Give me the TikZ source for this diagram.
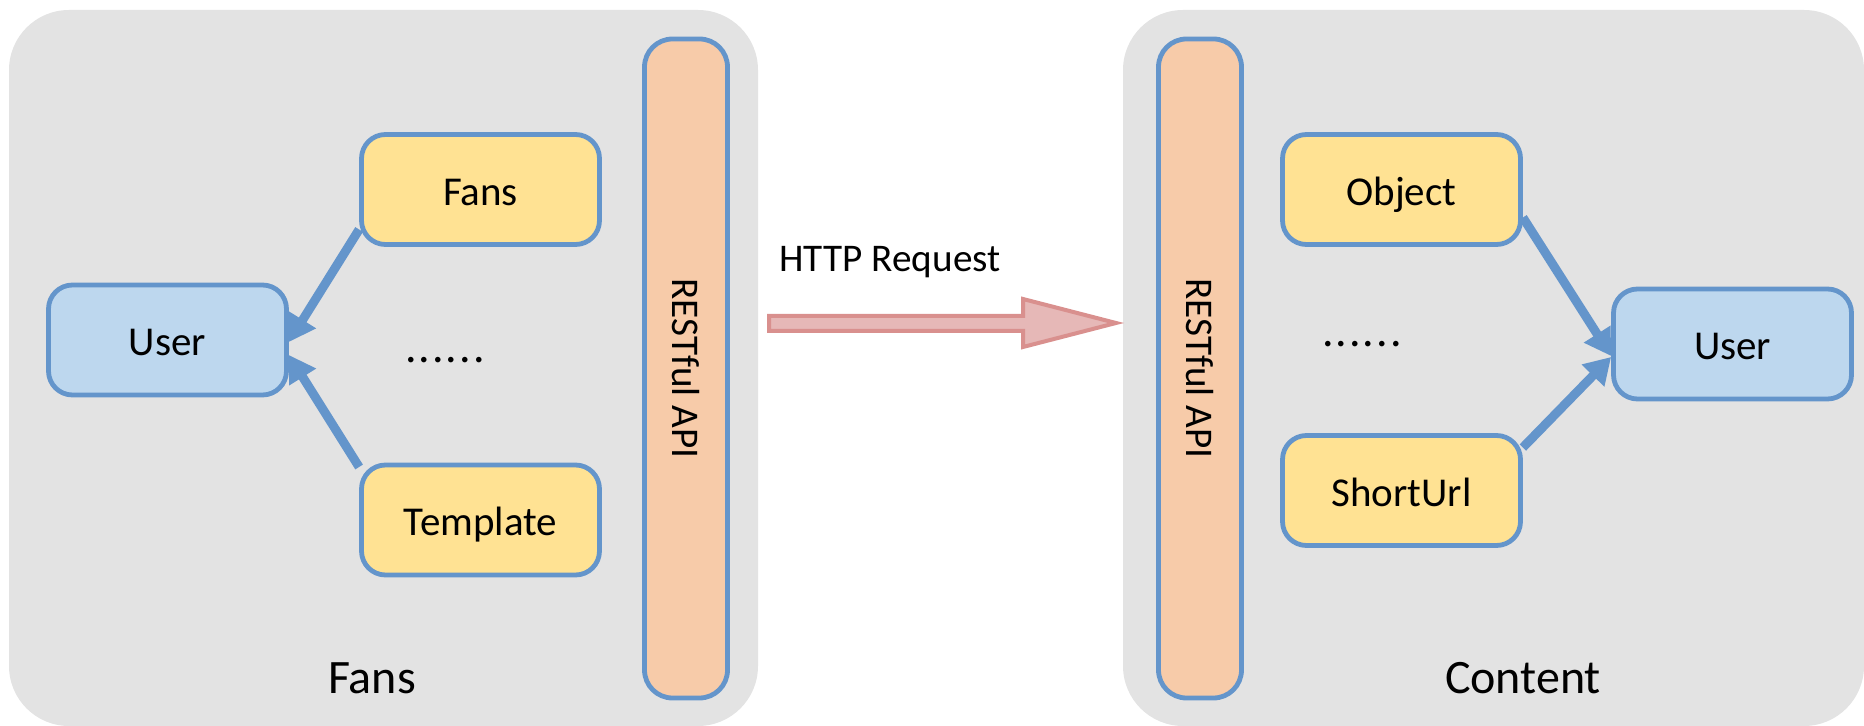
\documentclass[tikz,border=0pt]{standalone}
\usepackage{fontspec}
\setmainfont{Carlito}
\usetikzlibrary{arrows.meta}
\definecolor{panel}{HTML}{E3E3E3}
\definecolor{bord}{HTML}{6495CB}
\definecolor{yel}{HTML}{FFE293}
\definecolor{lblue}{HTML}{BDD7EE}
\definecolor{org}{HTML}{F7CBA9}
\definecolor{arrfill}{HTML}{E6B8B7}
\definecolor{arrline}{HTML}{D9908E}
\newcommand\sixdots{.\kern1pt.\kern1pt.\kern1pt.\kern1pt.\kern1pt.}
\begin{document}
\begin{tikzpicture}[x=0.5pt,y=-0.5pt,
  panelbox/.style={fill=panel, rounded corners=30pt},
  box/.style={draw=bord, line width=2.4pt, rounded corners=12pt, minimum width=119pt, minimum height=55pt, inner sep=0pt, text height=17pt, text depth=1pt, font=\fontsize{20.5}{24}\selectfont},
  ybox/.style={box, fill=yel},
  ubox/.style={box, fill=lblue},
  api/.style={draw=bord, line width=2.4pt, fill=org, rounded corners=14pt, minimum width=41.5pt, minimum height=329.5pt, inner sep=0pt, font=\fontsize{19.6}{23}\selectfont},
  conn/.style={draw=bord, line width=4.5pt, -{Triangle[length=13pt,width=15pt]}},
  plabel/.style={font=\fontsize{24}{28}\selectfont},
  dots/.style={font=\fontsize{23}{26}\selectfont, inner sep=0pt}
]
\useasboundingbox (0,0) rectangle (1864,726);
% panels
\path[panelbox] (9,10) rectangle (758,726);
\path[panelbox] (1123,10) rectangle (1864,726);
% left side
\node[api] (apil) at (686,368.5) {\rotatebox{-90}{RESTful API}};
\node[ybox] (fans) at (480.5,189.5) {Fans};
\node[ybox] (tmpl) at (480.5,520) {Template};
\node[ubox] (userl) at (167.5,340) {User};
\node[dots] (dotsl) at (445,360) {\sixdots};
\node[plabel] (lfans) at (372,678) {Fans};
\draw[conn] ([yshift=-20pt]fans.west) -- ([yshift=-1pt]userl.east);
\draw[conn] ([yshift=26.5pt]tmpl.west) -- ([yshift=-7.5pt]userl.east);
% middle
\node[font=\fontsize{19.6}{23}\selectfont] (http) at (890,262) {HTTP Request};
\path[draw=arrline, fill=arrfill, line width=2pt, line join=miter]
  (769,316) -- (1023,316) -- (1023,299) -- (1116,323) -- (1023,347) -- (1023,331) -- (769,331) -- cycle;
% right side
\node[api] (apir) at (1200,368.5) {\rotatebox{-90}{RESTful API}};
\node[ybox] (obj) at (1401.5,189.5) {Object};
\node[ybox] (surl) at (1401.5,490.5) {ShortUrl};
\node[ubox] (userr) at (1732.5,344) {User};
\node[dots] (dotsr) at (1362,344) {\sixdots};
\node[plabel] (lcont) at (1523,678) {Content};
\draw[conn] ([yshift=-14pt]obj.east) -- ([yshift=-6pt]userr.west);
\draw[conn] ([yshift=21.5pt]surl.east) -- ([yshift=-6.5pt]userr.west);
\end{tikzpicture}
\end{document}
